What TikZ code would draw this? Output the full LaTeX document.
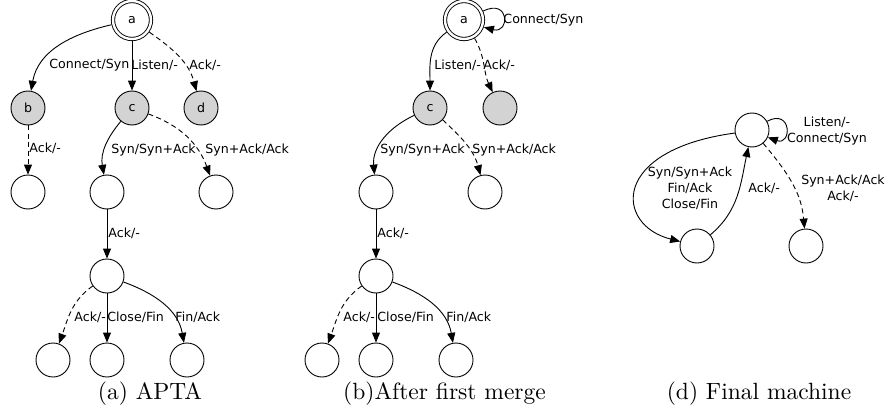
\documentclass[tikz,border=0pt]{standalone}
\usepackage{fontspec}
\usetikzlibrary{arrows.meta}
\newfontfamily\edgefont{DejaVu Sans}
\newfontfamily\capfont{lmroman10-regular.otf}
\definecolor{seen}{RGB}{211,211,211}
\begin{document}
\begin{tikzpicture}[x=1pt, y=1pt, line width=0.9pt,
    state/.style={draw, circle, minimum size=34pt, inner sep=0pt, font=\edgefont\fontsize{12.6}{15.8}\selectfont},
    start/.style={state, double, double distance=2.4pt, minimum size=38pt, outer sep=2.2pt},
    visited/.style={fill=seen},
    lbl/.style={inner sep=0pt, anchor=west, font=\edgefont\fontsize{12.6}{15.8}\selectfont},
    trans/.style={-{Triangle[length=10pt,width=8pt]}},
    maybe/.style={trans, dash pattern=on 5pt off 3.5pt},
    figcap/.style={anchor=base, font=\capfont\fontsize{23.5}{28}\selectfont}]
    \useasboundingbox (0,0) rectangle (886,-412);

    \node[start] (a) at (132,-20) {a};
    \node[state, visited] (b) at (28,-108) {b};
    \node[state, visited] (c) at (132,-108) {c};
    \node[state, visited] (d) at (201,-108) {d};
    \node[state] (b1) at (28,-192) {};
    \node[state] (c1) at (107,-192) {};
    \node[state] (c2) at (216,-192) {};
    \node[state] (e) at (107,-276) {};
    \node[state] (f1) at (53,-360) {};
    \node[state] (f2) at (107,-360) {};
    \node[state] (f3) at (187,-360) {};
    \draw[trans] (a) to[out=193, in=80] (b);
    \draw[trans] (a) -- (c);
    \draw[maybe] (a) to[out=-35, in=105] (d);
    \draw[maybe] (b) -- (b1);
    \draw[trans] (c) to[out=230, in=100] (c1);
    \draw[maybe] (c) to[out=-20, in=110] (c2);
    \draw[trans] (c1) -- (e);
    \draw[maybe] (e) to[out=215, in=70] (f1);
    \draw[trans] (e) -- (f2);
    \draw[trans] (e) to[out=-20, in=100] (f3);
    \node[lbl] (ab) at (49,-65) {Connect/Syn};
    \node[lbl] (ac) at (131,-65) {Listen/-};
    \node[lbl] (ad) at (189,-65) {Ack/-};
    \node[lbl] (bb1) at (29,-148) {Ack/-};
    \node[lbl] (cc1) at (111,-150) {Syn/Syn+Ack};
    \node[lbl] (cc2) at (205,-150) {Syn+Ack/Ack};
    \node[lbl] (c1e) at (108,-233) {Ack/-};
    \node[lbl] (ef1) at (74,-317) {Ack/-};
    \node[lbl] (ef2) at (107,-317) {Close/Fin};
    \node[lbl] (ef3) at (175,-317) {Fin/Ack};
    \node[figcap] (capa) at (150,-399) {(a) APTA};

    \node[start] (a2) at (464,-20) {a};
    \node[state, visited] (c3) at (430,-108) {c};
    \node[state, visited] (g) at (500,-108) {};
    \node[state] (c4) at (376,-192) {};
    \node[state] (c5) at (485,-192) {};
    \node[state] (e2) at (376,-276) {};
    \node[state] (f4) at (322,-360) {};
    \node[state] (f5) at (376,-360) {};
    \node[state] (f6) at (456,-360) {};
    \draw[trans] (a2.25) .. controls (510,2) and (510,-34) .. (a2.-20);
    \draw[trans] (a2) to[out=215, in=90] (c3);
    \draw[maybe] (a2) to[out=-60, in=115] (g);
    \draw[trans] (c3) to[out=205, in=95] (c4);
    \draw[maybe] (c3) to[out=-43, in=105] (c5);
    \draw[trans] (c4) -- (e2);
    \draw[maybe] (e2) to[out=215, in=70] (f4);
    \draw[trans] (e2) -- (f5);
    \draw[trans] (e2) to[out=-20, in=100] (f6);
    \node[lbl] (a2a2) at (503,-20) {Connect/Syn};
    \node[lbl] (a2c3) at (434,-65) {Listen/-};
    \node[lbl] (a2g) at (483,-65) {Ack/-};
    \node[lbl] (c3c4) at (380,-150) {Syn/Syn+Ack};
    \node[lbl] (c3c5) at (472,-150) {Syn+Ack/Ack};
    \node[lbl] (c4e2) at (377,-233) {Ack/-};
    \node[lbl] (e2f4) at (343,-317) {Ack/-};
    \node[lbl] (e2f5) at (377,-317) {Close/Fin};
    \node[lbl] (e2f6) at (446,-317) {Fin/Ack};
    \node[figcap] (capb) at (444.5,-399) {(b)After first merge};

    \node[state] (t) at (752,-130) {};
    \node[state] (l) at (697,-246) {};
    \node[state] (r) at (806,-246) {};
    \draw[trans] (t.30) .. controls (792,-108) and (792,-146) .. (t.-25);
    \draw[trans] (t.190) .. controls (610,-150) and (615,-225) .. (l.165);
    \draw[trans] (l) to[out=40, in=258] (t);
    \draw[maybe] (t) to[out=-50, in=95] (r);
    \node[lbl, anchor=center, align=center] (tt) at (827,-131) {Listen/-\\Connect/Syn};
    \node[lbl, anchor=center, align=center] (tl) at (690,-188) {Syn/Syn+Ack\\Fin/Ack\\Close/Fin};
    \node[lbl] (lt) at (748,-188) {Ack/-};
    \node[lbl, anchor=center, align=center] (tr) at (843,-188) {Syn+Ack/Ack\\Ack/-};
    \node[figcap] (capd) at (759,-399) {(d) Final machine};
\end{tikzpicture}
\end{document}
